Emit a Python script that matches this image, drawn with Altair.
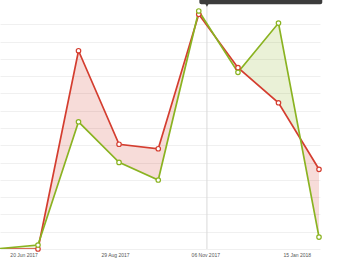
import altair as alt
import pandas as pd
from datetime import datetime

# ---- data ----
dates = ["2017-06-01", "2017-07-01", "2017-08-01", "2017-09-01", "2017-10-01",
         "2017-11-01", "2017-12-01", "2018-01-01", "2018-02-01"]
red_values = [0.0, 0.0, 11.47, 6.06, 5.80, 13.58, 10.49, 8.46, 4.61]
green_values = [0.02, 0.23, 7.36, 5.01, 3.99, 13.77, 10.22, 13.07, 0.69]
tick_dates = ["2017-06-20", "2017-08-29", "2017-11-06", "2018-01-15"]
hover_date = ["2017-11-07T06:00:00"]

RED = "#d43d2f"
GREEN = "#8ab321"

pts = pd.DataFrame({
    "date": [d + "T00:00:00Z" for d in dates],
    "red": red_values,
    "green": green_values,
})

# fill table between the two lines (crossing vertices added so each colour
# only fills where its own line is on top)
rows = []
dts = [datetime.fromisoformat(d) for d in dates]
for i in range(len(dates)):
    r, g = red_values[i], green_values[i]
    rows.append({"date": dts[i], "red": r, "green": g, "lo": min(r, g)})
    if i + 1 < len(dates):
        d0 = red_values[i] - green_values[i]
        d1 = red_values[i + 1] - green_values[i + 1]
        if d0 * d1 < 0:
            t = d0 / (d0 - d1)
            cd = dts[i] + (dts[i + 1] - dts[i]) * t
            cv = red_values[i] + t * (red_values[i + 1] - red_values[i])
            rows.append({"date": cd, "red": cv, "green": cv, "lo": cv})
fill = pd.DataFrame(rows)
fill["date"] = fill["date"].apply(lambda d: d.strftime("%Y-%m-%dT%H:%M:%SZ"))

xscale = alt.Scale(
    type="utc",
    domain=[alt.DateTime(year=2017, month=6, date=1, hours=22, minutes=20, utc=True),
            alt.DateTime(year=2018, month=2, date=1, hours=18, minutes=20, utc=True)],
)
yscale = alt.Scale(domain=[0, 14], nice=False, zero=True)

tick_vals = [alt.DateTime(year=int(d[:4]), month=int(d[5:7]), date=int(d[8:10]), utc=True)
             for d in tick_dates]

xaxis = alt.Axis(
    values=tick_vals, labelExpr="utcFormat(datum.value, '%d %b %Y')", title=None,
    grid=False, ticks=False, domain=False, labelFontSize=5, labelColor="#555555",
    labelFont="Liberation Sans", labelPadding=3, labelFlush=False,
)
yaxis = alt.Axis(
    values=list(range(0, 14)), title=None, labels=False, ticks=False, domain=False,
    grid=True, gridColor="#f0f0f0", gridWidth=1,
)


def X(field):
    return alt.X(field, scale=xscale, axis=xaxis)


def Y(field):
    return alt.Y(field, scale=yscale, axis=yaxis)


red_fill = alt.Chart(fill).mark_area(color=RED, opacity=0.18, clip=True).encode(
    x=X("date:T"), y=Y("red:Q"), y2="lo:Q")
green_fill = alt.Chart(fill).mark_area(color=GREEN, opacity=0.18, clip=True).encode(
    x=X("date:T"), y=Y("green:Q"), y2="lo:Q")

hover = pd.DataFrame({"date": [d + "Z" for d in hover_date], "y0": [0], "y1": [14.1]})
crosshair = alt.Chart(hover).mark_rule(color="#d9d9d9", strokeWidth=1).encode(
    x=X("date:T"), y=Y("y0:Q"), y2="y1:Q")

red_line = alt.Chart(pts).mark_line(color=RED, strokeWidth=1.7, clip=True).encode(
    x=X("date:T"), y=Y("red:Q"))
green_line = alt.Chart(pts).mark_line(color=GREEN, strokeWidth=1.7, clip=True).encode(
    x=X("date:T"), y=Y("green:Q"))

visible = alt.FieldRangePredicate(field="date", range=[
    alt.DateTime(year=2017, month=6, date=15, utc=True),
    alt.DateTime(year=2018, month=3, date=1, utc=True)])

red_pts = alt.Chart(pts).mark_point(shape="circle", size=20, fill="white", fillOpacity=1,
                                    stroke=RED, strokeWidth=1.2, opacity=1).encode(
    x=X("date:T"), y=Y("red:Q")).transform_filter(visible)
green_pts = alt.Chart(pts).mark_point(shape="circle", size=20, fill="white", fillOpacity=1,
                                      stroke=GREEN, strokeWidth=1.2, opacity=1).encode(
    x=X("date:T"), y=Y("green:Q")).transform_filter(visible)

tip = pd.DataFrame({
    "x0": ["2017-11-01T11:00:00Z"], "x1": ["2018-02-03T12:00:00Z"],
    "y0": [14.16], "y1": [15.0],
})
tip_box = alt.Chart(tip).mark_rect(color="#3c3c3c", cornerRadius=2).encode(
    x=X("x0:T"), x2="x1:T", y=Y("y0:Q"), y2="y1:Q")
tip_arrow = alt.Chart(hover).mark_point(shape="triangle-down", size=10, filled=True,
                                        color="#3c3c3c", opacity=1).encode(
    x=X("date:T"), y=Y("y1:Q"))

chart = alt.layer(
    red_fill, green_fill, crosshair, red_line, green_line, red_pts, green_pts,
    tip_box, tip_arrow,
).properties(
    width=320, height=242,
    autosize=alt.AutoSizeParams(type="none"),
    padding={"left": 0, "top": 7, "right": 17, "bottom": 12},
    background="white",
).configure_view(stroke=None)

chart.save("out.html", embed_options={"renderer": "svg", "actions": False})
